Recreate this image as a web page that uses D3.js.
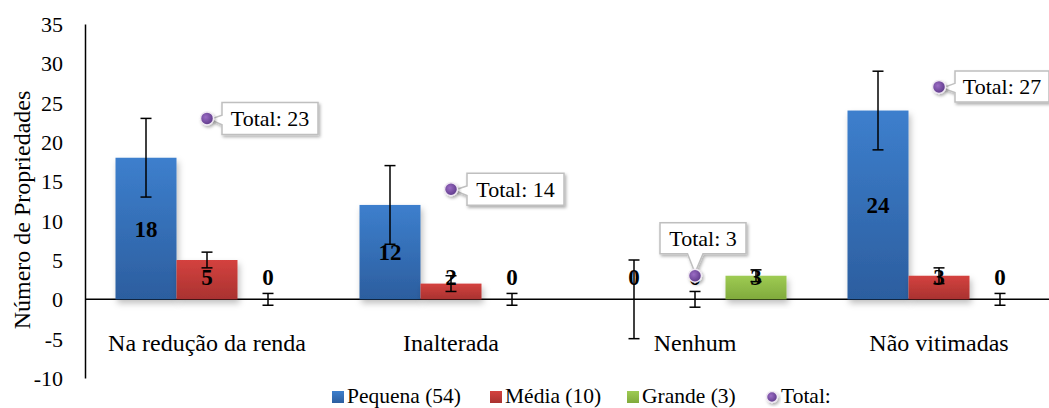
<!DOCTYPE html>
<html><head><meta charset="utf-8">
<script src="https://cdn.jsdelivr.net/npm/d3@7"></script>
<style>
html,body{margin:0;padding:0;background:#fff;}
text{font-family:"Liberation Serif","Times New Roman",serif;fill:#000;}
</style></head>
<body><svg id="chart" width="1049" height="408"></svg>
<script>
const categories = ["Na redução da renda","Inalterada","Nenhum","Não vitimadas"];
const seriesNames = ["Pequena (54)","Média (10)","Grande (3)"];
const pequena = [18,12,0,24];
const media = [5,2,0,3];
const grande = [0,0,3,0];
const errPequena = [5,5,5,5];
const errMedia = [1,1,1,1];
const errGrande = [0.75,0.75,0.75,0.75];
const totals = [23,14,3,27];
const totalLabel = "Total:";
const yTicks = [-10,-5,0,5,10,15,20,25,30,35];

const svg = d3.select("#chart");
const defs = svg.append("defs");
const colors = [["#3d7fcd","#2c5e9f"],["#d4423f","#a93230"],["#9ecb53","#80aa3c"]];
colors.forEach((c,i)=>{
  const g = defs.append("linearGradient").attr("id","g"+i).attr("x1",0).attr("y1",0).attr("x2",0).attr("y2",1);
  g.append("stop").attr("offset","0%").attr("stop-color",c[0]);
  g.append("stop").attr("offset","100%").attr("stop-color",c[1]);
});
const sh = defs.append("filter").attr("id","shadow").attr("x","-20%").attr("y","-20%").attr("width","150%").attr("height","160%");
sh.append("feDropShadow").attr("dx",2).attr("dy",4).attr("stdDeviation",3).attr("flood-color","#000").attr("flood-opacity",0.25);
const sh2 = defs.append("filter").attr("id","shadow2").attr("x","-20%").attr("y","-20%").attr("width","150%").attr("height","160%");
sh2.append("feDropShadow").attr("dx",1.5).attr("dy",2).attr("stdDeviation",1.5).attr("flood-color","#000").attr("flood-opacity",0.3);
const dg = defs.append("radialGradient").attr("id","dotg").attr("cx","40%").attr("cy","40%").attr("r","60%");
dg.append("stop").attr("offset","0%").attr("stop-color","#9b6cc4");
dg.append("stop").attr("offset","100%").attr("stop-color","#5e3a8a");

const left = 85, bandW = 244;
const x = d3.scaleBand().domain(categories).range([left, left + bandW*categories.length]).paddingInner(0).paddingOuter(0);
const y = d3.scaleLinear().domain([-10,35]).range([378,24]);
const xs = d3.scaleBand().domain([0,1,2]).range([0, bandW*0.75]);
const barOff = bandW*0.125;

// y axis
const yAxis = d3.axisLeft(y).tickValues(yTicks).tickSize(0).tickPadding(22).tickFormat(d=>String(d));
const ga = svg.append("g").attr("transform",`translate(${left},0)`).call(yAxis);
ga.attr("font-family",null);
ga.select(".domain").attr("stroke","#000").attr("stroke-width",1.5);
ga.selectAll("text").attr("font-size",22).attr("dy","0.34em");

// y title
svg.append("text").attr("transform","translate(30,210) rotate(-90)").attr("text-anchor","middle")
  .attr("font-size",24).text("Número de Propriedades");

// zero line
svg.append("line").attr("x1",left).attr("x2",1049).attr("y1",y(0)).attr("y2",y(0)).attr("stroke","#000").attr("stroke-width",1.5);

const allSeries = [pequena, media, grande];
const allErr = [errPequena, errMedia, errGrande];

// bars
allSeries.forEach((vals,si)=>{
  svg.append("g").attr("filter","url(#shadow)").selectAll("rect").data(vals).join("rect")
    .attr("x",(d,i)=>x(categories[i])+barOff+xs(si))
    .attr("width",xs.bandwidth())
    .attr("y",d=>y(Math.max(d,0)))
    .attr("height",d=>Math.abs(y(d)-y(0)))
    .attr("fill",`url(#g${si})`);
});

// data labels
allSeries.forEach((vals,si)=>{
  svg.append("g").selectAll("text").data(vals).join("text")
    .attr("x",(d,i)=>x(categories[i])+barOff+xs(si)+xs.bandwidth()/2)
    .attr("y",d=>Math.min((y(d)+y(0))/2, y(0)-22))
    .attr("dy","0.35em")
    .attr("text-anchor","middle").attr("font-size",23).attr("font-weight","bold")
    .text(d=>d);
});

// error bars
allSeries.forEach((vals,si)=>{
  const g = svg.append("g");
  vals.forEach((v,i)=>{
    const cx = x(categories[i])+barOff+xs(si)+xs.bandwidth()/2;
    const e = allErr[si][i];
    const y1 = y(v+e), y2 = y(v-e);
    g.append("line").attr("x1",cx).attr("x2",cx).attr("y1",y1).attr("y2",y2).attr("stroke","#000").attr("stroke-width",1.5);
    [y1,y2].forEach(yy=>g.append("line").attr("x1",cx-5.5).attr("x2",cx+5.5).attr("y1",yy).attr("y2",yy).attr("stroke","#000").attr("stroke-width",1.5));
  });
});

// total markers + callouts
const calloutPos = [{dx:15,dy:-16,w:96,h:32,pos:"right"},{dx:16,dy:-16,w:97,h:32,pos:"right"},{dx:-35,dy:-53,w:86,h:31,pos:"top"},{dx:16,dy:-16,w:94,h:31,pos:"right"}];
totals.forEach((t,i)=>{
  const cx = x(categories[i])+bandW/2, cy = y(t);
  const c = calloutPos[i];
  const bx = cx + c.dx, by = cy + c.dy;
  const g = svg.append("g");
  let path;
  if(c.pos==="right"){
    path = `M${bx},${by} H${bx+c.w} V${by+c.h} H${bx} V${by+c.h*0.7} L${cx+3},${cy+1} L${bx},${by+c.h*0.4} Z`;
  } else {
    path = `M${bx},${by} H${bx+c.w} V${by+c.h} H${bx+c.w*0.5} L${cx},${cy-3} L${bx+c.w*0.32},${by+c.h} H${bx} Z`;
  }
  g.append("path").attr("d",path).attr("fill","#fff").attr("stroke","#bfbfbf").attr("stroke-width",1.5).attr("filter","url(#shadow2)");
  g.append("text").attr("x",bx+c.w/2).attr("y",by+c.h/2).attr("dy","0.35em").attr("text-anchor","middle").attr("font-size",22)
    .text(`${totalLabel} ${t}`);
  svg.append("circle").attr("cx",cx).attr("cy",cy).attr("r",6.5).attr("fill","url(#dotg)")
    .attr("stroke","#efe8f2").attr("stroke-width",1.5).attr("filter","url(#shadow2)");
});

// legend
const legItems = [
  {label:seriesNames[0], type:"rect", fill:"url(#g0)", x:332},
  {label:seriesNames[1], type:"rect", fill:"url(#g1)", x:490},
  {label:seriesNames[2], type:"rect", fill:"url(#g2)", x:627},
  {label:totalLabel, type:"dot", x:766}
];
const lg = svg.append("g");
legItems.forEach(it=>{
  if(it.type==="rect"){
    lg.append("rect").attr("x",it.x).attr("y",391).attr("width",12).attr("height",12).attr("fill",it.fill);
  } else {
    lg.append("circle").attr("cx",it.x+6).attr("cy",397).attr("r",5.5).attr("fill","url(#dotg)").attr("stroke","#efe8f2").attr("stroke-width",1.5).attr("filter","url(#shadow2)");
  }
  lg.append("text").attr("x",it.x+15).attr("y",403).attr("font-size",21.5).text(it.label);
});

// category labels
svg.append("g").selectAll("text").data(categories).join("text")
  .attr("x",d=>x(d)+bandW/2).attr("y",351).attr("text-anchor","middle").attr("font-size",24).text(d=>d);
</script></body></html>
